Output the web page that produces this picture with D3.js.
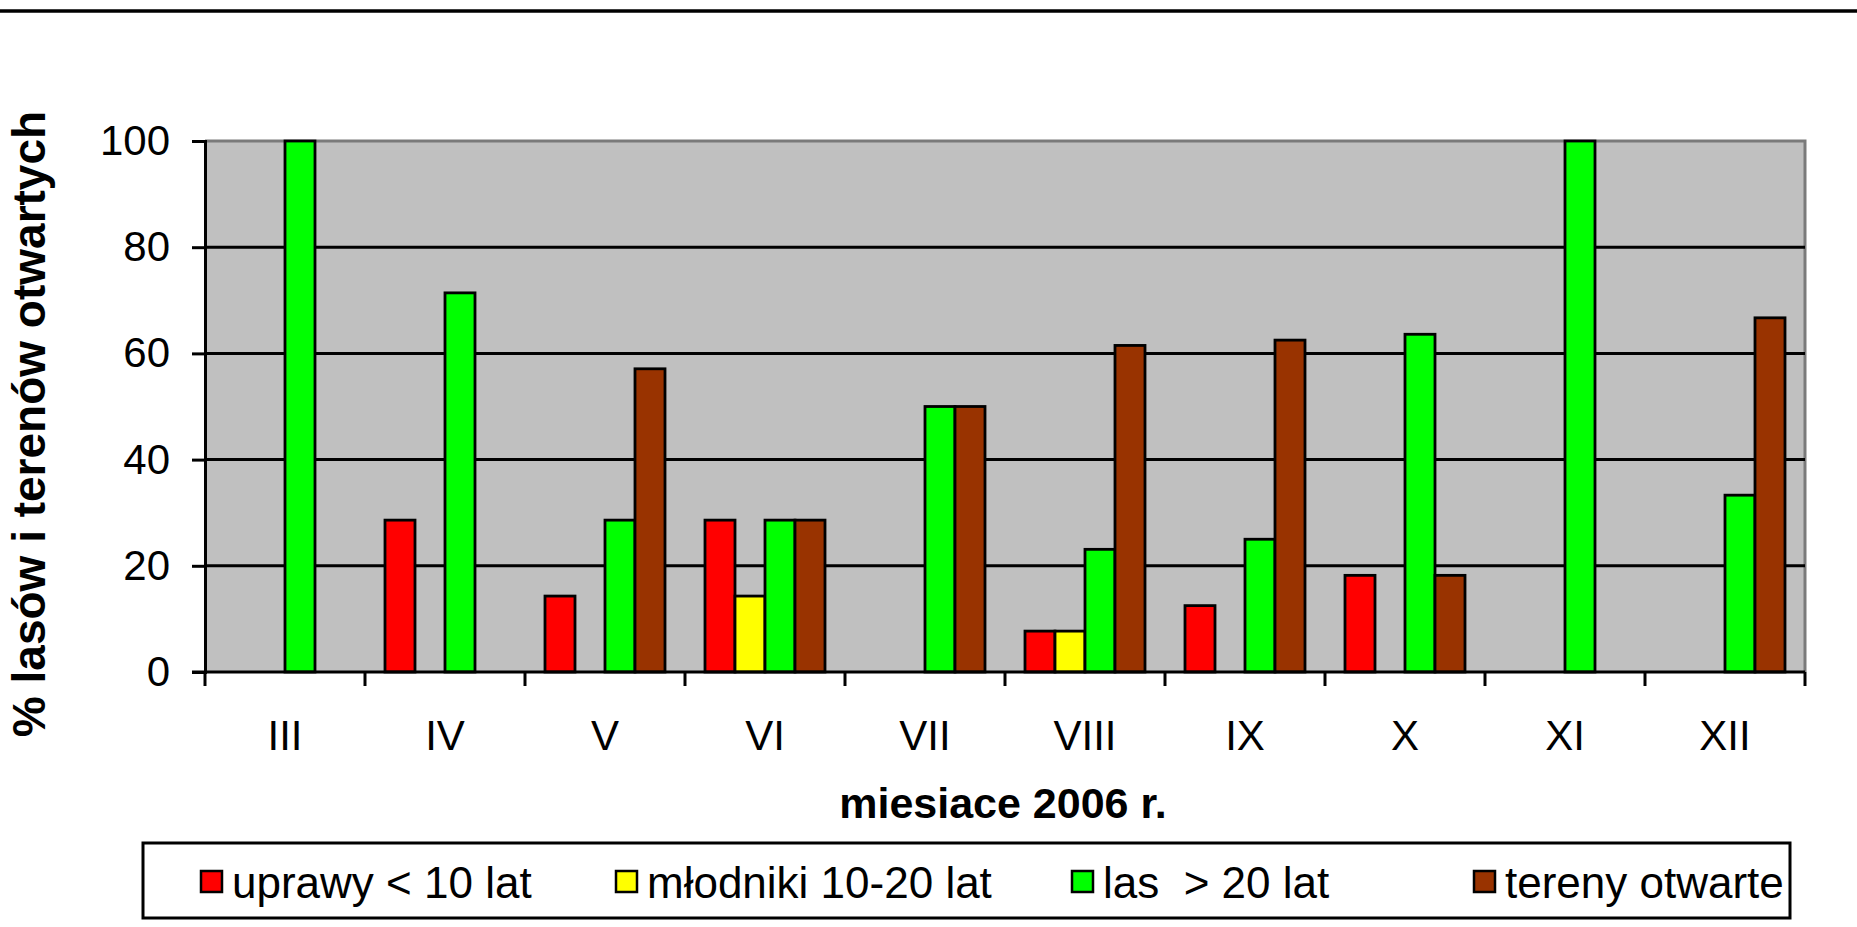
<!DOCTYPE html>
<html>
<head>
<meta charset="utf-8">
<script src="https://cdn.jsdelivr.net/npm/d3@7"></script>
<style>
  html, body { margin: 0; padding: 0; background: #fff; }
  svg { display: block; }
  text { font-family: "Liberation Sans", Arial, sans-serif; }
</style>
</head>
<body>
<svg id="chart" width="1857" height="927"></svg>
<script>
const months = ["III","IV","V","VI","VII","VIII","IX","X","XI","XII"];
const seriesNames = ["uprawy < 10 lat","młodniki 10-20 lat","las  > 20 lat","tereny otwarte"];
const seriesColors = ["#FF0000","#FFFF00","#00FF00","#993300"];
const uprawy   = [0, 28.6, 14.3, 28.6, 0, 7.7, 12.5, 18.2, 0, 0];
const mlodniki = [0, 0, 0, 14.3, 0, 7.7, 0, 0, 0, 0];
const las      = [100, 71.4, 28.6, 28.6, 50, 23.1, 25, 63.6, 100, 33.3];
const tereny   = [0, 0, 57.1, 28.6, 50, 61.5, 62.5, 18.2, 0, 66.7];
const yTicks = [0, 20, 40, 60, 80, 100];
const xTitle = "miesiace 2006 r.";
const yTitle = "% lasów i terenów otwartych";

const seriesValues = [uprawy, mlodniki, las, tereny];

const svg = d3.select("#chart");
const L = 205, R = 1805, T = 141, B = 672;

// top rule
svg.append("line").attr("x1", 0).attr("x2", 1857).attr("y1", 11).attr("y2", 11)
  .attr("stroke", "#000").attr("stroke-width", 3.5);

const x = d3.scaleBand().domain(months).range([L, R]).paddingInner(0).paddingOuter(0);
const x1 = d3.scaleBand().domain(d3.range(4)).range([20, 140]).padding(0);
const y = d3.scaleLinear().domain([0, 100]).range([B, T]);

// plot background
svg.append("rect").attr("x", L).attr("y", T).attr("width", R - L).attr("height", B - T)
  .attr("fill", "#C0C0C0");
// top & right border gray
svg.append("path").attr("d", `M${L},${T}H${R}V${B}`).attr("fill", "none")
  .attr("stroke", "#7a7a7a").attr("stroke-width", 3);

// gridlines
svg.append("g").selectAll("line").data(yTicks.filter(d => d > 0 && d < 100)).join("line")
  .attr("x1", L).attr("x2", R).attr("y1", d => y(d)).attr("y2", d => y(d))
  .attr("stroke", "#000").attr("stroke-width", 3);

// bars
const data = [];
months.forEach((m, i) => seriesValues.forEach((arr, s) => {
  if (arr[i] > 0) data.push({ m, s, v: arr[i] });
}));
svg.append("g").selectAll("rect").data(data).join("rect")
  .attr("x", d => x(d.m) + x1(d.s))
  .attr("width", x1.bandwidth())
  .attr("y", d => y(d.v))
  .attr("height", d => B - y(d.v))
  .attr("fill", d => seriesColors[d.s])
  .attr("stroke", "#000").attr("stroke-width", 2.8);

// y axis
const yAxis = d3.axisLeft(y).tickValues(yTicks).tickSize(13).tickPadding(22);
const gy = svg.append("g").attr("transform", `translate(${L},0)`).call(yAxis);
gy.select(".domain").attr("stroke", "#000").attr("stroke-width", 3);
gy.selectAll(".tick line").attr("stroke", "#000").attr("stroke-width", 3);
gy.selectAll(".tick text").attr("font-size", 42).attr("fill", "#000")
  .attr("font-family", "Liberation Sans, Arial, sans-serif");

// x axis
const xAxis = d3.axisBottom(x).tickSize(0).tickPadding(48);
const gx = svg.append("g").attr("transform", `translate(0,${B})`).call(xAxis);
gx.select(".domain").attr("stroke", "#000").attr("stroke-width", 3)
  .attr("d", `M${L - 13},0H${R}`);
gx.selectAll(".tick text").attr("font-size", 42).attr("fill", "#000")
  .attr("font-family", "Liberation Sans, Arial, sans-serif");
// category boundary ticks
const bounds = months.map(m => x(m)).concat([R]);
gx.append("g").selectAll("line").data(bounds).join("line")
  .attr("x1", d => d).attr("x2", d => d).attr("y1", 0).attr("y2", 14)
  .attr("stroke", "#000").attr("stroke-width", 3);

// axis titles
svg.append("text").attr("x", 1003).attr("y", 818).attr("text-anchor", "middle")
  .attr("font-size", 43).attr("font-weight", "bold").text(xTitle);
svg.append("text").attr("transform", `translate(45,424) rotate(-90)`).attr("text-anchor", "middle")
  .attr("font-size", 46).attr("font-weight", "bold").text(yTitle);

// legend
const lg = svg.append("g");
lg.append("rect").attr("x", 143).attr("y", 843).attr("width", 1790 - 143).attr("height", 918 - 843)
  .attr("fill", "#fff").attr("stroke", "#000").attr("stroke-width", 3);
const legX = [201, 616, 1072, 1474];
seriesNames.forEach((n, i) => {
  lg.append("rect").attr("x", legX[i]).attr("y", 871).attr("width", 21).attr("height", 21)
    .attr("fill", seriesColors[i]).attr("stroke", "#000").attr("stroke-width", 2.5);
  lg.append("text").attr("x", legX[i] + 31).attr("y", 898).attr("font-size", 44)
    .style("white-space", "pre").text(n);
});
</script>
</body>
</html>
